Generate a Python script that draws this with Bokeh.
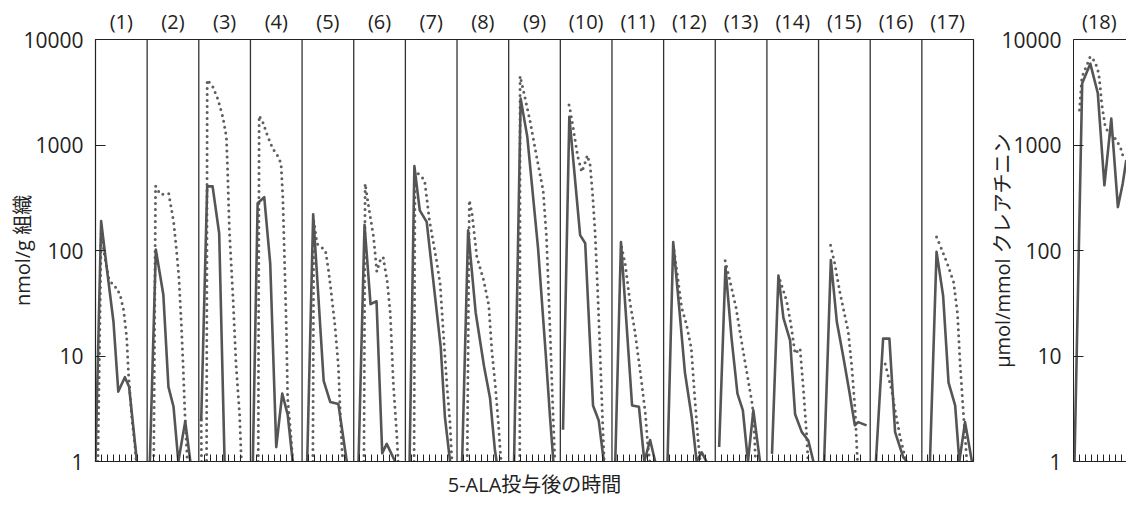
from bokeh.plotting import figure
from bokeh.layouts import row
from bokeh.models import (Range1d, FixedTicker, LinearAxis, CustomJSTickFormatter,
                          CustomLabelingPolicy, Span, Title)
from bokeh.embed import file_html
from bokeh.resources import INLINE

# ---------------- data (time units per panel, values) ----------------
PANEL_LABELS = ["(1)", "(2)", "(3)", "(4)", "(5)", "(6)", "(7)", "(8)", "(9)",
                "(10)", "(11)", "(12)", "(13)", "(14)", "(15)", "(16)", "(17)", "(18)"]
X_LABEL = "5-ALA投与後の時間"
Y_LABEL_LEFT = "nmol/g 組織"
Y_LABEL_RIGHT = "μmol/mmol クレアチニン"

SOLID_T = [
    [0, 0.94, 2.0, 3.0, 3.8, 4.9, 5.6, 6.9],
    [0.45, 1.45, 2.7, 3.55, 4.4, 5.2, 6.35, 7.2],
    [0.4, 1.4, 2.3, 3.4, 4.3],
    [0.4, 1.2, 2.3, 3.3, 4.3, 5.3, 6.2, 7.05],
    [0.85, 1.85, 3.6, 4.7, 6.05, 7.45],
    [0.8, 1.8, 2.8, 3.8, 4.75, 5.5, 6.9],
    [0.7, 1.5, 2.4, 3.55, 5.9, 6.6, 7.45],
    [0.85, 1.85, 3.1, 4.5, 5.5, 6.3, 6.6],
    [0.9, 2.0, 3.1, 4.9, 6.2, 6.9, 7.45],
    [0.45, 1.5, 3.3, 4.15, 5.45, 6.4, 7.25],
    [0.55, 1.5, 3.35, 4.5, 5.4, 6.36, 7.2],
    [0.65, 1.6, 2.75, 3.55, 4.7, 5.5, 6.35, 7.15],
    [0.65, 1.7, 2.7, 3.7, 4.6, 5.45, 6.35, 7.45],
    [0.85, 1.92, 2.75, 3.87, 4.7, 5.82, 6.9, 7.75],
    [0.93, 2.05, 3.05, 4.1, 5.1, 6.05, 6.6, 8.0],
    [0.95, 2.15, 3.2, 4.15, 5.5, 6.1],
    [1.35, 2.45, 3.55, 4.45, 5.55, 6.25, 7.2, 8.35],
    [0.17, 1.45, 2.8, 4.05, 5.15, 6.3, 7.4, 8.2, 8.8],
]
SOLID_V = [
    [1, 190, 60, 21, 4.6, 6.3, 5.1, 1],
    [1, 102, 38, 5.1, 3.3, 1, 2.4, 1],
    [2.4, 405, 405, 145, 1],
    [1, 280, 320, 75, 1.37, 4.4, 2.8, 1],
    [1, 220, 5.8, 3.66, 3.5, 1],
    [1, 175, 31, 33, 1.2, 1.47, 1],
    [1, 630, 240, 187, 12, 2.6, 1],
    [1, 155, 26, 8, 4, 1.3, 1],
    [1, 2750, 1200, 105, 10, 2.6, 1],
    [2, 1850, 140, 117, 3.4, 2.45, 1],
    [1, 120, 3.4, 3.3, 1, 1.6, 1],
    [1, 120, 23, 7, 2.6, 1, 1.22, 1],
    [1.37, 70, 15, 4.4, 3.05, 1, 3.05, 1],
    [1.18, 58, 23, 14, 2.8, 1.9, 1.58, 1],
    [1, 81, 21, 10, 4.7, 2.2, 2.36, 2.2],
    [1, 14.6, 14.6, 1.9, 1.1, 1],
    [1, 97, 37, 5.6, 3.4, 1, 2.36, 1],
    [1, 3850, 5900, 3100, 415, 1780, 258, 430, 720],
]

DOT_T = [
    [0.4, 0.95, 1.5, 2.2, 3.0, 3.6, 4.2, 4.7, 5.2, 5.5, 6.05, 6.6, 6.8],
    [1.1, 1.4, 2.2, 3.6, 4.4, 4.9, 5.3, 5.7, 6.0, 6.3, 6.7],
    [0.4, 0.45, 1.3, 1.4, 2.3, 3.2, 4.0, 4.6, 4.8, 5.1, 5.7, 6.2, 6.8, 7.1],
    [1.3, 1.45, 2.05, 2.9, 3.7, 4.6, 5.1, 5.4, 5.7, 6.0, 6.2, 6.8, 7.05],
    [1.8, 1.95, 2.5, 3.9, 4.4, 4.75, 5.5, 6.05, 6.35, 6.65, 6.8],
    [1.7, 1.9, 2.4, 3.3, 3.85, 4.4, 4.9, 5.6, 6.1, 6.6, 7.2, 7.4],
    [1.45, 1.6, 2.05, 3.2, 4.0, 5.2, 5.8, 6.35, 6.9, 7.45, 7.75],
    [1.7, 2.05, 2.5, 3.3, 4.45, 5.3, 5.8, 6.35, 6.9, 7.2, 7.35],
    [1.85, 1.9, 2.45, 3.55, 4.65, 5.75, 6.3, 6.9, 7.3, 7.7],
    [1.45, 1.6, 2.1, 2.9, 3.58, 4.0, 4.5, 4.97, 5.4, 5.8, 6.2, 6.6, 7.1, 7.3],
    [1.6, 2.2, 3.05, 3.8, 4.9, 5.58, 6.0, 6.3],
    [1.75, 3.0, 3.8, 4.6, 5.2, 5.75, 6.1],
    [1.65, 2.3, 3.45, 4.55, 5.4, 6.2, 6.5, 6.7],
    [2.2, 3.3, 4.0, 4.7, 5.53, 6.1, 6.65, 6.85],
    [2.0, 2.7, 3.6, 4.95, 5.55, 6.1, 6.4, 6.5],
    [2.5, 3.6, 4.15, 5.0, 5.8, 6.0],
    [2.45, 3.15, 4.25, 5.3, 5.95, 6.35, 6.9, 7.25, 7.5],
    [1.0, 1.4, 2.8, 3.6, 4.2, 4.45, 4.7, 5.3, 6.1, 6.95, 7.8, 8.3],
]
DOT_V = [
    [1, 150, 90, 55, 46, 44, 36, 27, 15, 6.8, 2.6, 1.37, 1],
    [1, 410, 340, 345, 190, 100, 55, 20, 8, 2.8, 1],
    [2.5, 1, 1, 4150, 3600, 2700, 1850, 1200, 580, 155, 36, 8.5, 2.8, 1],
    [1, 1900, 1650, 1200, 930, 780, 670, 320, 75, 17, 4, 1.6, 1],
    [1, 190, 116, 100, 65, 45, 19, 8, 3, 1.3, 1],
    [1, 430, 280, 135, 63, 80, 87, 50, 25, 5.5, 1.7, 1],
    [1, 560, 540, 465, 195, 80, 48, 16, 5.5, 2.3, 1],
    [1, 300, 225, 87, 52, 30, 11.3, 5.5, 2.3, 1.27, 1],
    [1, 4500, 3300, 1700, 780, 370, 135, 17.5, 4, 1],
    [2400, 2200, 1500, 780, 556, 645, 800, 645, 330, 146, 45, 12, 2, 1],
    [108, 75, 31, 17.5, 5.9, 2.8, 1.37, 1],
    [100, 29, 20, 12, 4, 1.6, 1],
    [80, 56, 29, 12, 6.3, 3.4, 2, 1],
    [52, 33, 20, 10.5, 11.8, 4.7, 1.7, 1],
    [112, 75, 39, 17, 7.8, 3.05, 1.27, 1],
    [8.4, 4.7, 3.05, 1.7, 1.1, 1],
    [134, 108, 75, 50, 25, 9, 3, 1.6, 1],
    [2150, 4400, 6900, 6150, 4800, 3550, 2460, 1480, 1240, 1150, 960, 770],
]

Y_TICKS = [1, 10, 100, 1000, 10000]
TIME_TICKS = [1, 2, 3, 4, 5, 6, 7, 8]

# ---------------- styling ----------------
FONT = "Open Sans, Noto Sans CJK JP"
TXT = "#222222"
SOLID_C = "#555555"
DOT_C = "#5e5e5e"
P = 8.61          # width of one panel in time units
N = 17
H = 505

def style_y(ax, label, standoff):
    ax.ticker = FixedTicker(ticks=Y_TICKS)
    ax.formatter = CustomJSTickFormatter(code="return tick.toFixed(0);")
    ax.major_tick_in = 10
    ax.major_tick_out = 0
    ax.minor_tick_out = 0
    ax.minor_tick_in = 0
    ax.minor_tick_line_color = None
    ax.major_tick_line_color = TXT
    ax.axis_line_color = TXT
    ax.major_label_standoff = 12
    ax.major_label_text_font = FONT
    ax.major_label_text_font_size = "21px"
    ax.major_label_text_color = TXT
    ax.axis_label = label
    ax.axis_label_standoff = standoff
    ax.axis_label_text_font = FONT
    ax.axis_label_text_font_size = "20px"
    ax.axis_label_text_font_style = "normal"
    ax.axis_label_text_color = TXT

def style_x(ax, ticks):
    ax.ticker = FixedTicker(ticks=ticks)
    ax.formatter = CustomJSTickFormatter(code="return '';")
    ax.major_label_policy = CustomLabelingPolicy(code="return new Set();")
    ax.major_tick_in = 7
    ax.major_tick_out = 0
    ax.minor_tick_out = 0
    ax.minor_tick_in = 0
    ax.minor_tick_line_color = None
    ax.major_tick_line_color = TXT
    ax.axis_line_color = TXT
    ax.major_label_text_font_size = "1px"
    ax.major_label_standoff = 0
    ax.axis_label = None
    ax.axis_label_standoff = 0

def top_axis(centers, labels, width, line):
    ax = LinearAxis(ticker=FixedTicker(ticks=centers),
                    formatter=CustomJSTickFormatter(args=dict(labels=labels, w=width),
                                                    code="return labels[Math.floor(tick / w)] || '';"))
    ax.axis_line_color = TXT if line else None
    ax.major_tick_line_color = None
    ax.minor_tick_line_color = None
    ax.major_tick_out = 0
    ax.major_tick_in = 0
    ax.minor_tick_out = 0
    ax.minor_tick_in = 0
    ax.major_label_standoff = 5
    ax.major_label_text_font = FONT
    ax.major_label_text_font_size = "20px"
    ax.major_label_text_color = TXT
    return ax

# ---------------- left figure: panels 1-17 ----------------
pA = figure(width=986, height=H, x_range=Range1d(0, N * P), y_range=Range1d(1, 10000),
            y_axis_type="log", output_backend="svg", toolbar_location=None,
            min_border_left=95, min_border_right=13, min_border_top=39, min_border_bottom=44,
            outline_line_color=TXT, outline_line_width=1.2, background_fill_color="white")
pA.xgrid.visible = False
pA.ygrid.visible = False
style_y(pA.yaxis[0], Y_LABEL_LEFT, -16)
style_x(pA.xaxis[0], [k * P + j for k in range(N) for j in TIME_TICKS[:7]])
pA.add_layout(top_axis([(k + 0.5) * P for k in range(N)], PANEL_LABELS[:N], P, False), "above")

for k in range(1, N):
    pA.add_layout(Span(location=k * P, dimension="height", line_color="#333333", line_width=1.3))

pA.multi_line([[k * P + t for t in DOT_T[k]] for k in range(N)], DOT_V[:N],
              line_color=DOT_C, line_width=3, line_dash="0 6", line_cap="round")
pA.multi_line([[k * P + t for t in SOLID_T[k]] for k in range(N)], SOLID_V[:N],
              line_color=SOLID_C, line_width=2.6, line_join="round")

pA.add_layout(Title(text=X_LABEL, align="center", offset=49, standoff=15,
                    text_font=FONT, text_font_size="20px", text_font_style="normal",
                    text_color=TXT), "below")

# ---------------- right figure: panel 18 ----------------
WB = 140
LB = 87
PB = (WB - LB) / 6.0
pB = figure(width=WB, height=H, x_range=Range1d(0, PB), y_range=Range1d(1, 10000),
            y_axis_type="log", output_backend="svg", toolbar_location=None,
            min_border_left=LB, min_border_right=0, min_border_top=39, min_border_bottom=44,
            outline_line_color=None, background_fill_color="white")
pB.xgrid.visible = False
pB.ygrid.visible = False
style_y(pB.yaxis[0], Y_LABEL_RIGHT, -18)
style_x(pB.xaxis[0], TIME_TICKS)
pB.add_layout(top_axis([P / 2], PANEL_LABELS[N:], P, True), "above")

pB.line(DOT_T[N], DOT_V[N], line_color=DOT_C, line_width=3, line_dash="0 6", line_cap="round")
pB.line(SOLID_T[N], SOLID_V[N], line_color=SOLID_C, line_width=2.6, line_join="round")

layout = row(pA, pB)
open("out.html", "w").write(file_html(layout, INLINE))
